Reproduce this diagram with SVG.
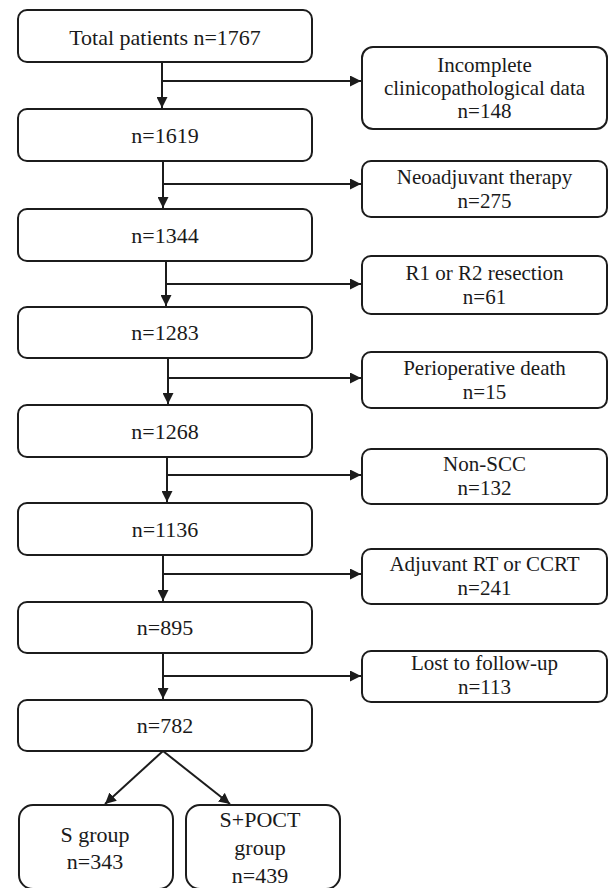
<svg xmlns="http://www.w3.org/2000/svg" width="608" height="888" viewBox="0 0 608 888">
<style>
.box{fill:#ffffff;stroke:#1c1c1c;stroke-width:2}
.t{font-family:"Liberation Serif","Times New Roman",serif;fill:#1a1a1a;text-anchor:middle}
.m{font-size:22px}
.r{font-size:21px}
.c{fill:none;stroke:#1c1c1c;stroke-width:2}
</style>
<defs>
<marker id="ah" markerUnits="userSpaceOnUse" markerWidth="12" markerHeight="11" refX="11" refY="5.5" orient="auto">
<path d="M0,0 L11,5.5 L0,11 z" fill="#1c1c1c"/>
</marker>
</defs>
<rect width="608" height="888" fill="#ffffff"/>

<g id="connectors">
<line class="c" x1="162" y1="62" x2="162" y2="108" marker-end="url(#ah)"/>
<line class="c" x1="162" y1="81" x2="361" y2="81" marker-end="url(#ah)"/>
<line class="c" x1="163" y1="161" x2="163" y2="208" marker-end="url(#ah)"/>
<line class="c" x1="163" y1="184" x2="361" y2="184" marker-end="url(#ah)"/>
<line class="c" x1="166" y1="261" x2="166" y2="306" marker-end="url(#ah)"/>
<line class="c" x1="166" y1="284" x2="361" y2="284" marker-end="url(#ah)"/>
<line class="c" x1="168" y1="358" x2="168" y2="404" marker-end="url(#ah)"/>
<line class="c" x1="168" y1="378" x2="361" y2="378" marker-end="url(#ah)"/>
<line class="c" x1="167" y1="457" x2="167" y2="502" marker-end="url(#ah)"/>
<line class="c" x1="167" y1="475" x2="361" y2="475" marker-end="url(#ah)"/>
<line class="c" x1="163" y1="555" x2="163" y2="601" marker-end="url(#ah)"/>
<line class="c" x1="163" y1="574" x2="361" y2="574" marker-end="url(#ah)"/>
<line class="c" x1="163" y1="653" x2="163" y2="699" marker-end="url(#ah)"/>
<line class="c" x1="163" y1="676" x2="361" y2="676" marker-end="url(#ah)"/>
<line class="c" x1="163" y1="751" x2="105" y2="804" marker-end="url(#ah)"/>
<line class="c" x1="163" y1="751" x2="230" y2="804" marker-end="url(#ah)"/>
</g>

<g id="n-total"><rect class="box" x="18" y="10" width="294" height="52" rx="9"/><text class="t m" x="165" y="45">Total patients n=1767</text></g>
<g id="n-1619"><rect class="box" x="18" y="109" width="294" height="52" rx="9"/><text class="t m" x="165" y="143">n=1619</text></g>
<g id="n-1344"><rect class="box" x="18" y="209" width="294" height="52" rx="9"/><text class="t m" x="165" y="243">n=1344</text></g>
<g id="n-1283"><rect class="box" x="18" y="307" width="294" height="51" rx="9"/><text class="t m" x="165" y="340">n=1283</text></g>
<g id="n-1268"><rect class="box" x="18" y="405" width="294" height="52" rx="9"/><text class="t m" x="165" y="439">n=1268</text></g>
<g id="n-1136"><rect class="box" x="18" y="503" width="294" height="52" rx="9"/><text class="t m" x="165" y="537">n=1136</text></g>
<g id="n-895"><rect class="box" x="18" y="602" width="294" height="51" rx="9"/><text class="t m" x="165" y="635">n=895</text></g>
<g id="n-782"><rect class="box" x="18" y="700" width="294" height="51" rx="9"/><text class="t m" x="165" y="733">n=782</text></g>

<g id="x-incomplete"><rect class="box" x="362" y="47" width="245" height="82" rx="11"/><text class="t r" x="484.5" y="72">Incomplete</text><text class="t r" x="484.5" y="95">clinicopathological data</text><text class="t r" x="484.5" y="118">n=148</text></g>
<g id="x-neoadjuvant"><rect class="box" x="362" y="161" width="245" height="56" rx="9"/><text class="t r" x="484.5" y="184">Neoadjuvant therapy</text><text class="t r" x="484.5" y="208">n=275</text></g>
<g id="x-r1r2"><rect class="box" x="362" y="256" width="245" height="58" rx="9"/><text class="t r" x="484.5" y="280">R1 or R2 resection</text><text class="t r" x="484.5" y="304">n=61</text></g>
<g id="x-periop"><rect class="box" x="362" y="352" width="245" height="56" rx="9"/><text class="t r" x="484.5" y="375">Perioperative death</text><text class="t r" x="484.5" y="399">n=15</text></g>
<g id="x-nonscc"><rect class="box" x="362" y="449" width="245" height="55" rx="9"/><text class="t r" x="484.5" y="471">Non-SCC</text><text class="t r" x="484.5" y="495">n=132</text></g>
<g id="x-adjuvant"><rect class="box" x="362" y="549" width="245" height="55" rx="9"/><text class="t r" x="484.5" y="571">Adjuvant RT or CCRT</text><text class="t r" x="484.5" y="595">n=241</text></g>
<g id="x-lost"><rect class="box" x="362" y="651" width="245" height="51" rx="9"/><text class="t r" x="484.5" y="670">Lost to follow-up</text><text class="t r" x="484.5" y="694">n=113</text></g>

<g id="g-s"><rect class="box" x="19" y="805" width="154" height="84" rx="14"/><text class="t m" x="95" y="842">S group</text><text class="t m" x="95" y="869">n=343</text></g>
<g id="g-spoct"><rect class="box" x="186" y="805" width="154" height="84" rx="14"/><text class="t m" x="260" y="827">S+POCT</text><text class="t m" x="260" y="855">group</text><text class="t m" x="260" y="883">n=439</text></g>
</svg>
